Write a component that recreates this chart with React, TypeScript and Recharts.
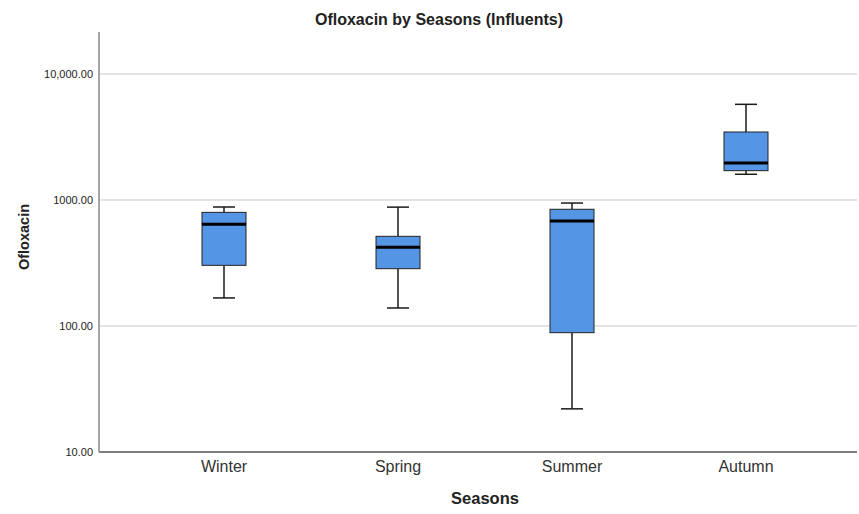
import { ComposedChart, Bar, XAxis, YAxis, CartesianGrid } from "recharts";

const seasons = ["Winter", "Spring", "Summer", "Autumn"];
const minValues = [167, 139, 22, 1600];
const q1Values = [303, 285, 88.5, 1709];
const medianValues = [641, 421, 681, 1966];
const q3Values = [798, 515, 844, 3465];
const maxValues = [880, 878, 946, 5745];
const yTicks = [10, 100, 1000, 10000];

const chartData = seasons.map((season, i) => ({
  season,
  min: minValues[i],
  q1: q1Values[i],
  median: medianValues[i],
  q3: q3Values[i],
  max: maxValues[i],
  range: [minValues[i], maxValues[i]],
}));

const font = "'Liberation Sans', Arial, sans-serif";

// SPSS writes 1000.00 without a separator but 10,000.00 with one
const formatTick = (v: number) => {
  if (v >= 10000) return v.toLocaleString("en-US", { minimumFractionDigits: 2 });
  return v.toFixed(2);
};

// box drawn inside the [min, max] bar; inner values placed on the same log mapping
function BoxShape(props: any) {
  const { x, y, width, height, payload } = props;
  const top = Math.min(y, y + height);
  const h = Math.abs(height);
  const bottom = top + h;
  const lo = Math.log10(payload.min);
  const hi = Math.log10(payload.max);
  const toPx = (v: number) => bottom - ((Math.log10(v) - lo) / (hi - lo)) * h;
  const cx = x + width / 2;
  const cap = width / 2;
  const yQ1 = toPx(payload.q1);
  const yQ3 = toPx(payload.q3);
  const yMed = toPx(payload.median);
  return (
    <g>
      <line x1={cx} x2={cx} y1={top} y2={yQ3} stroke="#1a1a1a" strokeWidth={1.5} />
      <line x1={cx} x2={cx} y1={yQ1} y2={bottom} stroke="#1a1a1a" strokeWidth={1.5} />
      <line x1={cx - cap / 2} x2={cx + cap / 2} y1={top} y2={top} stroke="#1a1a1a" strokeWidth={1.5} />
      <line x1={cx - cap / 2} x2={cx + cap / 2} y1={bottom} y2={bottom} stroke="#1a1a1a" strokeWidth={1.5} />
      <rect x={x} y={yQ3} width={width} height={yQ1 - yQ3} fill="#5595e5" stroke="#222" strokeWidth={1} />
      <line x1={x} x2={x + width} y1={yMed} y2={yMed} stroke="#000" strokeWidth={3} />
    </g>
  );
}

export default function App() {
  return (
    <div style={{ position: "absolute", left: 0, top: 0, width: 859, height: 514, background: "#fff", fontFamily: font }}>
      <div style={{ position: "absolute", left: 0, width: 878, top: 11, textAlign: "center", fontWeight: "bold", fontSize: 16, color: "#222" }}>
        Ofloxacin by Seasons (Influents)
      </div>
      <div style={{ position: "absolute", left: 24, top: 237, transform: "translate(-50%, -50%) rotate(-90deg)", fontWeight: "bold", fontSize: 14.5, color: "#222", whiteSpace: "nowrap" }}>
        Ofloxacin
      </div>
      <div style={{ position: "absolute", left: 0, width: 970, top: 489, textAlign: "center", fontWeight: "bold", fontSize: 16.5, color: "#222" }}>
        Seasons
      </div>
      <ComposedChart width={859} height={514} data={chartData} margin={{ top: 32, right: 2, bottom: 0, left: 0 }}>
        <CartesianGrid vertical={false} horizontalValues={yTicks.slice(1)} stroke="#c8c8c8" strokeWidth={1} />
        <XAxis
          dataKey="season"
          height={62}
          padding={{ left: 38, right: 24 }}
          tickLine={false}
          tickSize={0}
          tickMargin={9}
          axisLine={{ stroke: "#555", strokeWidth: 1.5 }}
          tick={{ fontSize: 16, fill: "#333", fontFamily: font }}
        />
        <YAxis
          scale="log"
          domain={[10, 21544]}
          allowDataOverflow
          ticks={yTicks}
          width={99}
          tickLine={false}
          tickSize={0}
          tickMargin={6}
          tickFormatter={formatTick}
          axisLine={{ stroke: "#888", strokeWidth: 1.5 }}
          tick={{ fontSize: 11, fill: "#222", fontFamily: font }}
        />
        <Bar dataKey="range" barSize={44} shape={<BoxShape />} isAnimationActive={false} />
      </ComposedChart>
    </div>
  );
}
